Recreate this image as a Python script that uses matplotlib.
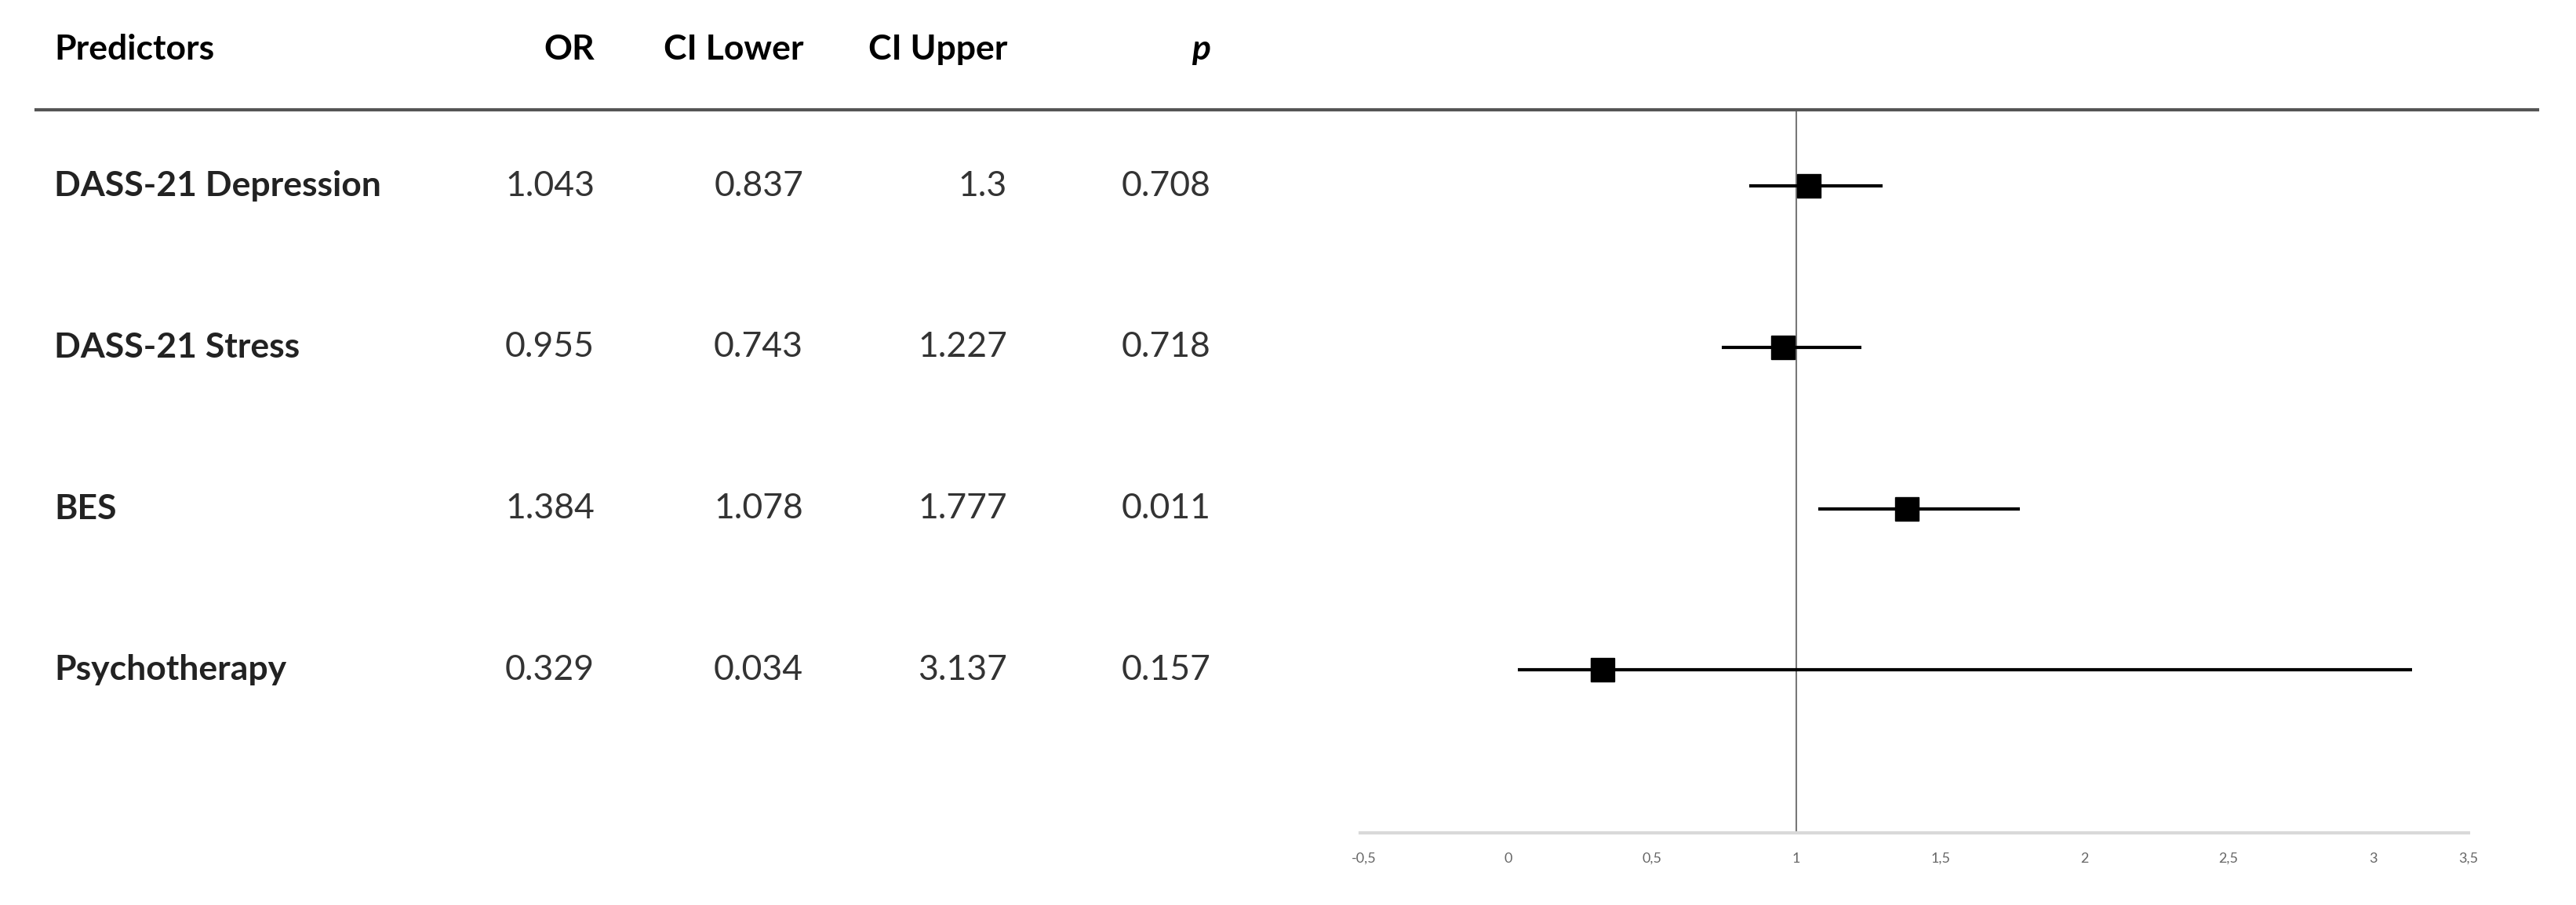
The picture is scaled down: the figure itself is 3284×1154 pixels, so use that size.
import matplotlib
matplotlib.use("Agg")
import matplotlib.pyplot as plt
import matplotlib.transforms as mtransforms

predictors = ["DASS-21 Depression", "DASS-21 Stress", "BES", "Psychotherapy"]
odds = [1.043, 0.955, 1.384, 0.329]
ci_lower = [0.837, 0.743, 1.078, 0.034]
ci_upper = [1.3, 1.227, 1.777, 3.137]
p_vals = [0.708, 0.718, 0.011, 0.157]
or_txt = ["1.043", "0.955", "1.384", "0.329"]
lo_txt = ["0.837", "0.743", "1.078", "0.034"]
hi_txt = ["1.3", "1.227", "1.777", "3.137"]
p_txt = ["0.708", "0.718", "0.011", "0.157"]
xticklabels = ["-0,5", "0", "0,5", "1", "1,5", "2", "2,5", "3", "3,5"]

W, H = 3284, 1154
XMIN, XMAX = -0.512, 3.332
fig = plt.figure(figsize=(W/100, H/100), dpi=100)
plt.rcParams['font.family'] = ['Lato', 'DejaVu Sans']
ax = fig.add_axes([1734/W, 1-1062/H, (3147-1734)/W, (1062-140)/H])
rows = list(range(len(predictors)))
for i in rows:
    ax.plot([ci_lower[i], ci_upper[i]], [i, i], color='black', lw=3, solid_capstyle='butt', zorder=3)
ax.plot(odds, rows, 's', color='black', markersize=21, zorder=4, linestyle='none')
ax.axvline(1, color='#777777', lw=1.5, zorder=1)
ax.set_xlim(XMIN, XMAX)
ax.set_ylim(4.01, -0.472)
for s in ['top', 'right', 'left']:
    ax.spines[s].set_visible(False)
ax.spines['bottom'].set_color('#d9d9d9')
ax.spines['bottom'].set_linewidth(3)
ax.set_yticks([])
# Excel-style axis: last label sits at the axis end
ax.set_xticks([-0.5, 0, 0.5, 1, 1.5, 2, 2.5, 3, XMAX])
ax.set_xticklabels(xticklabels, fontsize=13, color='#666666')
ax.tick_params(axis='x', length=0, pad=18)

tr = mtransforms.blended_transform_factory(fig.transFigure, ax.transData)
fs = 32
hdr_y = (63-237)/205.7
fig.text(69/W, hdr_y, "Predictors", transform=tr, fontsize=fs, fontweight='bold', va='center', ha='left')
cols = [(758/W, "OR"), (1024/W, "CI Lower"), (1284/W, "CI Upper")]
for x, t in cols:
    fig.text(x, hdr_y, t, transform=tr, fontsize=fs, fontweight='bold', va='center', ha='right')
fig.text(1543/W, hdr_y, "p", transform=tr, fontsize=fs, fontweight='bold', fontstyle='italic', va='center', ha='right')
fig.add_artist(plt.Line2D([46/W, 3235/W], [1-140/H, 1-140/H], color='#555555', lw=3, transform=fig.transFigure))
for i in rows:
    fig.text(69/W, i, predictors[i], transform=tr, fontsize=fs, fontweight='bold', va='center', ha='left', color='#222222')
    for x, t in zip([758/W, 1024/W, 1284/W, 1543/W], [or_txt[i], lo_txt[i], hi_txt[i], p_txt[i]]):
        fig.text(x, i, t, transform=tr, fontsize=fs, va='center', ha='right', color='#333333')

fig.savefig("out.png", dpi=100, facecolor='white')
